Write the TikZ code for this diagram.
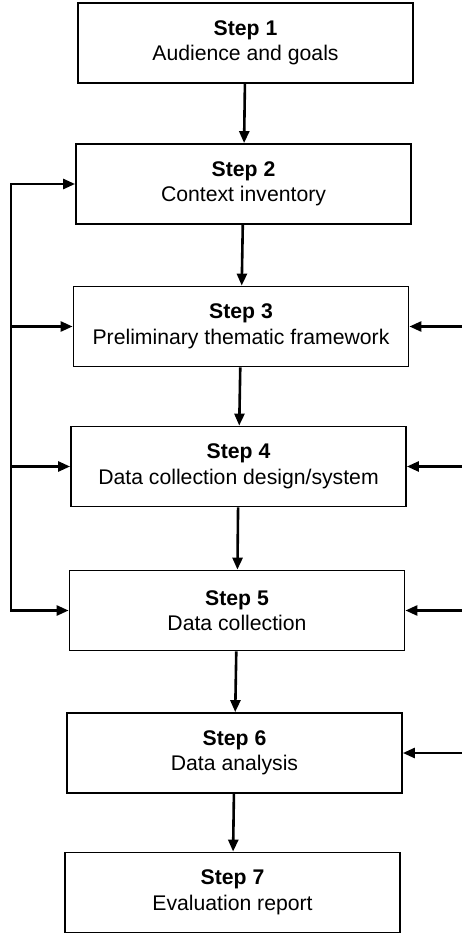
\documentclass[tikz,border=0pt]{standalone}
\usepackage{fontspec}
\setmainfont{Liberation Sans}
\usetikzlibrary{arrows.meta}
\begin{document}
\begin{tikzpicture}[x=1pt,y=-1pt,
  stepbox/.style={draw, line width=1.8pt, minimum width=335pt, minimum height=80pt,
    inner sep=0pt, align=center, font=\fontsize{21.2}{25.5}\selectfont},
  flow/.style={line width=2.6pt, -{Triangle[length=12pt,width=10pt]}},
  loopline/.style={line width=2.6pt, {Triangle[length=12pt,width=10pt]}-{Triangle[length=12pt,width=10pt]}}]
\useasboundingbox (0,0) rectangle (462,933);
% the seven steps
\node[stepbox] (s1) at (245.5,43)  {\textbf{Step 1}\\Audience and goals};
\node[stepbox] (s2) at (243.5,184) {\textbf{Step 2}\\Context inventory};
\node[stepbox] (s3) at (241,326.5) {\textbf{Step 3}\\Preliminary thematic framework};
\node[stepbox] (s4) at (238.5,466.5) {\textbf{Step 4}\\Data collection design/system};
\node[stepbox] (s5) at (237,610.5) {\textbf{Step 5}\\Data collection};
\node[stepbox] (s6) at (234.5,753) {\textbf{Step 6}\\Data analysis};
\node[stepbox] (s7) at (232.5,892.5) {\textbf{Step 7}\\Evaluation report};
% main sequence
\draw[flow] (s1) -- (s2);
\draw[flow] (s2) -- (s3);
\draw[flow] (s3) -- (s4);
\draw[flow] (s4) -- (s5);
\draw[flow] (s5) -- (s6);
\draw[flow] (s6) -- (s7);
% feedback loop on the left
\coordinate (lx) at (11,0);
\draw[loopline] (s2.west) -- (lx |- s2.west) -- (lx |- s5.west) -- (s5.west);
\draw[flow] (lx |- s3.west) -- (s3.west);
\draw[flow] (lx |- s4.west) -- (s4.west);
% inputs from the right
\coordinate (rx) at (462,0);
\draw[flow] (rx |- s3.east) -- (s3.east);
\draw[flow] (rx |- s4.east) -- (s4.east);
\draw[flow] (rx |- s5.east) -- (s5.east);
\draw[flow] (rx |- s6.east) -- (s6.east);
\end{tikzpicture}
\end{document}
